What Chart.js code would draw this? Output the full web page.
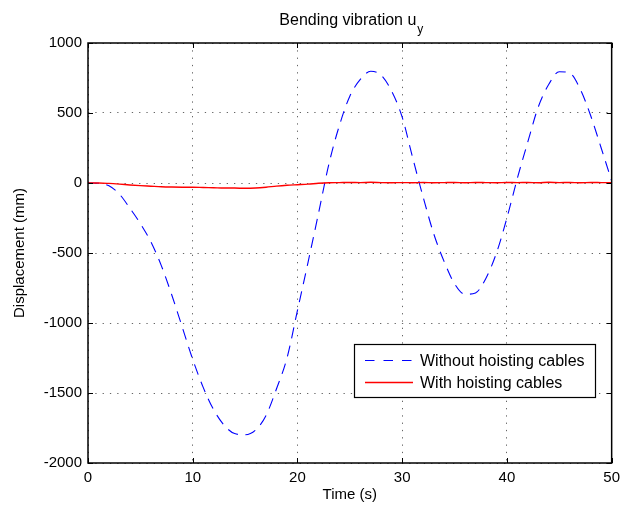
<!DOCTYPE html>
<html>
<head>
<meta charset="utf-8">
<title>Bending vibration</title>
<script src="https://cdn.jsdelivr.net/npm/chart.js@4.4.0/dist/chart.umd.min.js"></script>
<style>
  html, body { margin: 0; padding: 0; background: #ffffff; }
  #wrap { width: 626px; height: 506px; }
</style>
</head>
<body>
<div id="wrap"><canvas id="chart" width="626" height="506"></canvas></div>
<script>
// Tiempo (s)
const tiempo = [0, 1, 2, 3, 4, 5, 6, 7, 8, 9, 10, 11, 12, 13, 14, 15, 16, 17, 18, 19, 20,
  21, 22, 23, 24, 25, 26, 27, 28, 29, 30, 31, 32, 33, 34, 35, 36, 37, 38, 39, 40,
  41, 42, 43, 44, 45, 46, 47, 48, 49, 50];

// Desplazamiento u_y (mm) sin cables de izado
const sinCables = [0, -2, -20, -80, -180, -290, -420, -590, -800, -1030, -1260,
  -1460, -1620, -1730, -1790, -1798, -1765, -1660, -1470, -1250, -910,
  -570, -220, 135, 410, 620, 740, 798, 770, 655, 470,
  180, -100, -360, -560, -720, -795, -785, -680, -500, -250,
  35, 295, 545, 705, 795, 785, 670, 480, 250, 15];

// Desplazamiento u_y (mm) con cables de izado
const conCables = [0, 0, -3, -8, -14, -19, -23, -27, -29, -30, -30,
  -32, -34, -36, -36, -38, -36, -30, -22, -16, -12,
  -8, -2, 2, 3, 4, 3, 5, 3, 2, 3,
  2, 4, 2, 3, 4, 2, 4, 3, 2, 4,
  3, 4, 2, 5, 3, 4, 2, 4, 3, 2];

const ticksX = [0, 10, 20, 30, 40, 50];
const ticksY = [-2000, -1500, -1000, -500, 0, 500, 1000];
const nombres = ["Without hoisting cables", "With hoisting cables"];

const FUENTE = '"Liberation Sans", Arial, Helvetica, sans-serif';
const DASH_AZUL = [11, 7.5];

// Marco negro y marcas de graduacion hacia dentro (estilo MATLAB)
const marco = {
  id: "marco",
  afterDatasetsDraw(chart) {
    const { ctx, chartArea: a, scales } = chart;
    const L = 5;
    ctx.save();
    ctx.strokeStyle = "#000";
    ctx.lineWidth = 1;
    ctx.beginPath();
    ticksX.forEach((v) => {
      const px = Math.round(scales.x.getPixelForValue(v)) + 0.5;
      ctx.moveTo(px, a.bottom); ctx.lineTo(px, a.bottom - L);
      ctx.moveTo(px, a.top); ctx.lineTo(px, a.top + L);
    });
    ticksY.forEach((v) => {
      const py = Math.round(scales.y.getPixelForValue(v)) + 0.5;
      ctx.moveTo(a.left, py); ctx.lineTo(a.left + L, py);
      ctx.moveTo(a.right, py); ctx.lineTo(a.right - L, py);
    });
    ctx.stroke();
    ctx.lineWidth = 1.5;
    ctx.strokeRect(a.left, a.top, a.right - a.left, a.bottom - a.top);
    ctx.restore();
  },
};

// Titulo con subindice
const titulo = {
  id: "titulo",
  afterDraw(chart) {
    const { ctx, chartArea: a } = chart;
    const texto = "Bending vibration u";
    const sub = "y";
    ctx.save();
    ctx.fillStyle = "#000";
    ctx.textBaseline = "alphabetic";
    ctx.textAlign = "left";
    ctx.font = "16px " + FUENTE;
    const w1 = ctx.measureText(texto).width;
    ctx.font = "12px " + FUENTE;
    const w2 = ctx.measureText(sub).width;
    const x0 = (a.left + a.right) / 2 - (w1 + w2) / 2 + 1;
    ctx.font = "16px " + FUENTE;
    ctx.fillText(texto, x0, 25);
    ctx.font = "12px " + FUENTE;
    ctx.fillText(sub, x0 + w1 + 1, 32.5);
    ctx.restore();
  },
};

// Leyenda dentro del area de trazado
const leyenda = {
  id: "leyenda",
  afterDraw(chart) {
    const ctx = chart.ctx;
    const caja = { x: 354, y: 344, w: 241, h: 53 };
    ctx.save();
    ctx.fillStyle = "#fff";
    ctx.fillRect(caja.x, caja.y, caja.w, caja.h);
    ctx.strokeStyle = "#000";
    ctx.lineWidth = 1.2;
    ctx.strokeRect(caja.x + 0.5, caja.y + 0.5, caja.w, caja.h);
    ctx.font = "16px " + FUENTE;
    ctx.textBaseline = "middle";
    ctx.textAlign = "left";
    nombres.forEach((nombre, i) => {
      const ds = chart.data.datasets[i];
      const y = caja.y + 16.5 + i * 22;
      ctx.beginPath();
      ctx.strokeStyle = ds.borderColor;
      ctx.lineWidth = ds.borderWidth;
      ctx.setLineDash(ds.borderDash ? [9.5, 9] : []);
      ctx.moveTo(365, y);
      ctx.lineTo(413, y);
      ctx.stroke();
      ctx.setLineDash([]);
      ctx.fillStyle = "#000";
      ctx.fillText(nombre, 420, y + 1);
    });
    ctx.restore();
  },
};

const puntos = (serie) => tiempo.map((t, i) => ({ x: t, y: serie[i] }));

new Chart(document.getElementById("chart"), {
  type: "line",
  data: {
    datasets: [
      {
        label: nombres[0],
        data: puntos(sinCables),
        borderColor: "#0000ff",
        borderWidth: 1.1,
        borderDash: DASH_AZUL,
        borderCapStyle: "butt",
        borderJoinStyle: "round",
        pointRadius: 0,
        fill: false,
        cubicInterpolationMode: "monotone",
        order: 2,
      },
      {
        label: nombres[1],
        data: puntos(conCables),
        borderColor: "#ff0000",
        borderWidth: 1.4,
        pointRadius: 0,
        fill: false,
        cubicInterpolationMode: "monotone",
        order: 1,
      },
    ],
  },
  options: {
    responsive: false,
    animation: false,
    layout: { padding: { top: 43, right: 11, bottom: 0, left: 0 } },
    plugins: {
      legend: { display: false },
      title: { display: false },
      tooltip: { enabled: false },
    },
    scales: {
      x: {
        type: "linear",
        min: 0,
        max: 50,
        afterBuildTicks: (s) => { s.ticks = ticksX.map((v) => ({ value: v })); },
        afterFit: (s) => { s.height = 43; },
        grid: { color: "rgba(0,0,0,0.6)", lineWidth: 1, drawTicks: false },
        border: { display: false, dash: [1.3, 6] },
        ticks: {
          padding: 6,
          color: "#000",
          maxRotation: 0,
          font: { size: 15, family: FUENTE },
          callback: (v) => String(v),
        },
        title: {
          display: true,
          text: "Time (s)",
          color: "#000",
          font: { size: 15, family: FUENTE },
          padding: { top: 0, bottom: 2 },
        },
      },
      y: {
        type: "linear",
        min: -2000,
        max: 1000,
        afterBuildTicks: (s) => { s.ticks = ticksY.map((v) => ({ value: v })); },
        afterFit: (s) => { s.width = 88; },
        grid: { color: "rgba(0,0,0,0.6)", lineWidth: 1, drawTicks: false },
        border: { display: false, dash: [1.3, 6] },
        ticks: {
          padding: 6,
          color: "#000",
          font: { size: 15, family: FUENTE },
          callback: (v) => String(v),
        },
        title: {
          display: true,
          text: "Displacement (mm)",
          color: "#000",
          font: { size: 15, family: FUENTE },
          padding: { top: 11, bottom: 0 },
        },
      },
    },
  },
  plugins: [marco, titulo, leyenda],
});
</script>
</body>
</html>
